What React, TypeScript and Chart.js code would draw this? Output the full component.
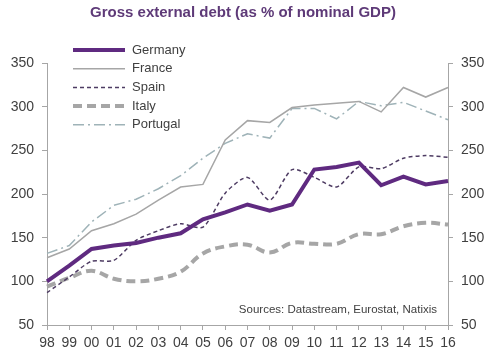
import React, { useEffect, useRef } from "react";
import { Chart, registerables } from "chart.js";

Chart.register(...registerables);

const years = ["98","99","00","01","02","03","04","05","06","07","08","09","10","11","12","13","14","15","16"];
const germany = [100,118,137,141,144,150,155,171,179,188,181,188,228,231,236,210,220,211,215];
const france = [127,137,158,166,177,193,208,211,262,284,282,299,302,304,306,294,322,311,322];
const spain = [87,105,123,124,147,158,166,162,201,219,193,228,219,208,231,229,241,244,242];
const italy = [94,104,112,103,100,103,111,132,140,142,133,144,143,143,154,154,163,167,165];
const portugal = [132,141,168,187,194,206,221,241,258,269,264,298,298,286,306,301,305,295,285];
const yTicks = [50,100,150,200,250,300,350];

const titleText = "Gross external debt (as % of nominal GDP)";
const sourceText = "Sources: Datastream, Eurostat, Natixis";

const overlayPlugin = {
  id: "overlay",
  afterDraw(chart: any) {
    const ctx = chart.ctx;
    ctx.save();
    // title
    ctx.font = "bold 15px Arial, 'Liberation Sans', sans-serif";
    ctx.fillStyle = "#5e3a78";
    ctx.textAlign = "center";
    ctx.textBaseline = "middle";
    ctx.fillText(titleText, 243, 13);
    // legend
    const ds = chart.data.datasets;
    ds.forEach((d: any, i: number) => {
      const y = 50 + i * 18.7;
      ctx.beginPath();
      ctx.strokeStyle = d.borderColor;
      ctx.lineWidth = d.borderWidth;
      ctx.setLineDash(d.borderDash || []);
      ctx.moveTo(73, y);
      ctx.lineTo(125, y);
      ctx.stroke();
      ctx.setLineDash([]);
      ctx.font = "13px Arial, 'Liberation Sans', sans-serif";
      ctx.fillStyle = "#404040";
      ctx.textAlign = "left";
      ctx.textBaseline = "middle";
      ctx.fillText(d.label, 132, y);
    });
    // source
    ctx.font = "11.5px Arial, 'Liberation Sans', sans-serif";
    ctx.fillStyle = "#404040";
    ctx.textAlign = "right";
    ctx.textBaseline = "middle";
    ctx.fillText(sourceText, 437, 310);
    ctx.restore();
  },
};

export default function App() {
  const ref = useRef<HTMLCanvasElement>(null);
  useEffect(() => {
    if (!ref.current) return;
    const axisColor = "#a6a6a6";
    const tickFont = { family: "Arial, 'Liberation Sans', sans-serif", size: 14 };
    const yAxis = (position: "left" | "right", width: number) => ({
      type: "linear" as const,
      position,
      min: 50,
      max: 350,
      afterBuildTicks: (s: any) => { s.ticks = yTicks.map((v) => ({ value: v })); },
      afterFit: (s: any) => { s.width = width; },
      ticks: { color: "#404040", font: tickFont, padding: 8 },
      grid: { drawOnChartArea: false, drawTicks: true, tickLength: 5, color: axisColor },
      border: { display: true, color: axisColor, width: 1 },
    });
    const chart = new Chart(ref.current, {
      type: "line",
      data: {
        labels: years,
        datasets: [
          { label: "Germany", data: germany, borderColor: "#5f2a80", borderWidth: 4, pointRadius: 0, tension: 0, yAxisID: "y" },
          { label: "France", data: france, borderColor: "#a6a6a6", borderWidth: 1.5, pointRadius: 0, tension: 0, yAxisID: "y" },
          { label: "Spain", data: spain, borderColor: "#4e3c63", borderWidth: 1.5, borderDash: [4, 3], pointRadius: 0, tension: 0.25, yAxisID: "y" },
          { label: "Italy", data: italy, borderColor: "#a6a6a6", borderWidth: 4, borderDash: [9, 5], pointRadius: 0, tension: 0.4, yAxisID: "y" },
          { label: "Portugal", data: portugal, borderColor: "#9fb3b8", borderWidth: 1.5, borderDash: [11, 4, 2, 4], pointRadius: 0, tension: 0, yAxisID: "y" },
        ],
      },
      options: {
        animation: false,
        responsive: false,
        maintainAspectRatio: false,
        layout: { padding: { left: 0, right: 0, top: 63, bottom: 0 } },
        plugins: { legend: { display: false }, title: { display: false }, tooltip: { enabled: false } },
        scales: {
          x: {
            type: "category",
            offset: false,
            afterFit: (s: any) => { s.height = 29; },
            ticks: { color: "#404040", font: tickFont, padding: 5, maxRotation: 0, autoSkip: false },
            grid: { drawOnChartArea: false, drawTicks: true, tickLength: 5, color: axisColor },
            border: { display: true, color: axisColor, width: 1 },
          },
          y: yAxis("left", 47),
          y2: yAxis("right", 52),
        },
      },
      plugins: [overlayPlugin],
    });
    return () => chart.destroy();
  }, []);
  return (
    <div style={{ position: "absolute", left: 0, top: 0, width: 500, height: 354, background: "#fff" }}>
      <canvas ref={ref} width={500} height={354} style={{ width: 500, height: 354 }} />
    </div>
  );
}
